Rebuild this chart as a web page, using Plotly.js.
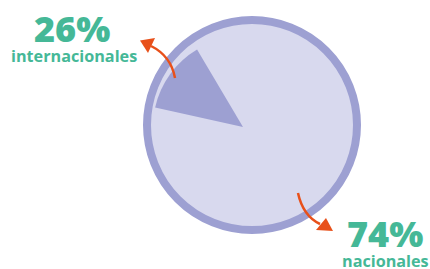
<!DOCTYPE html>
<html>
<head>
<meta charset="utf-8">
<script src="https://cdn.plot.ly/plotly-3.0.1.min.js"></script>
<style>html,body{margin:0;padding:0;background:#fff;}#chart{width:430px;height:269px;}</style>
</head>
<body>
<div id="chart"></div>
<script>
// ---- data ----
const categories = ['internacionales', 'nacionales'];
const percents = [26, 74];
const percentLabels = ['26%', '74%'];
// share of the circle actually covered by the drawn wedge
const wedgeShare = [13, 87];
const discTotal = [100];

// ---- layout constants ----
const W = 430, H = 269;
const green = '#45b897', orange = '#e8501a';
const ringColor = '#9da0d2', fillColor = '#d8d9ee';

function domainFor(cx, cy, r) {
  return { x: [(cx - r) / W, (cx + r) / W], y: [(H - cy - r) / H, (H - cy + r) / H] };
}
function px(x, y) { return [(x / W).toFixed(4), (1 - y / H).toFixed(4)]; }
function path(cmds) {
  return cmds.map(c => c[0] + c.slice(1).map(p => px(p[0], p[1]).join(',')).join(' ')).join(' ');
}

const disc = {
  type: 'pie', values: discTotal, labels: ['total'], sort: false,
  domain: domainFor(252, 125, 105),
  marker: { colors: [fillColor], line: { color: ringColor, width: 8 } },
  textinfo: 'none', hoverinfo: 'skip', showlegend: false
};
const wedge = {
  type: 'pie', values: wedgeShare, labels: categories, sort: false,
  direction: 'clockwise', rotation: -77.5,
  domain: domainFor(243, 127, 90),
  marker: { colors: [ringColor, 'rgba(0,0,0,0)'], line: { width: 0 } },
  textinfo: 'none', hoverinfo: 'skip', showlegend: false
};

const shapes = [
  { type: 'path', xref: 'paper', yref: 'paper',
    path: path([['M', [175, 78]], ['Q', [171, 56], [151, 46]]]),
    line: { color: orange, width: 2.5 }, fillcolor: 'rgba(0,0,0,0)' },
  { type: 'path', xref: 'paper', yref: 'paper',
    path: path([['M', [140, 40.5]], ['L', [155, 38]], ['L', [148, 53]]]) + ' Z',
    line: { width: 0 }, fillcolor: orange },
  { type: 'path', xref: 'paper', yref: 'paper',
    path: path([['M', [298, 193]], ['Q', [303, 216], [320, 224]]]),
    line: { color: orange, width: 2.5 }, fillcolor: 'rgba(0,0,0,0)' },
  { type: 'path', xref: 'paper', yref: 'paper',
    path: path([['M', [333, 231]], ['L', [316, 230]], ['L', [326, 218]]]) + ' Z',
    line: { width: 0 }, fillcolor: orange }
];

const bigFont = { family: 'Open Sans, sans-serif', size: 36, color: green, weight: 800 };
const smallFont = { family: 'Open Sans, sans-serif', size: 16.2, color: green, weight: 700 };
function ann(text, cx, cy, font) {
  return { text: text, xref: 'paper', yref: 'paper', x: cx / W, y: 1 - cy / H,
    xanchor: 'center', yanchor: 'middle', showarrow: false, font: font, borderpad: 0 };
}
const annotations = [
  ann(percentLabels[0], 72, 28, bigFont),
  ann(categories[0], 74, 56, smallFont),
  ann(percentLabels[1], 385, 233, bigFont),
  ann(categories[1], 385, 261, smallFont)
];

Plotly.newPlot('chart', [disc, wedge], {
  width: W, height: H, margin: { l: 0, r: 0, t: 0, b: 0 },
  paper_bgcolor: '#fff', showlegend: false,
  shapes: shapes, annotations: annotations
}, { staticPlot: true, displayModeBar: false });
</script>
</body>
</html>
